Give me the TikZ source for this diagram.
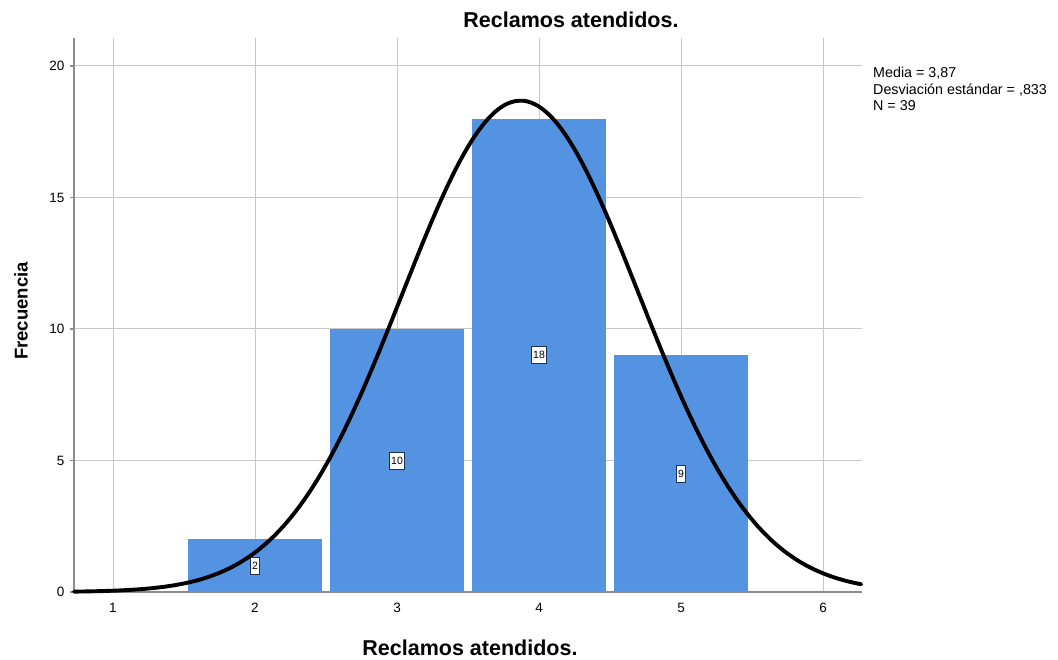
\documentclass[tikz,border=0pt]{standalone}
\usepackage{fontspec}
\setmainfont{Liberation Sans}
\definecolor{barblue}{RGB}{84,146,226}
\definecolor{gridgray}{RGB}{200,200,200}
\definecolor{axisgray}{RGB}{140,140,140}
\definecolor{boxedge}{RGB}{30,50,80}
\begin{document}
\begin{tikzpicture}[x=1pt,y=-1pt,
  gridline/.style={gridgray, line width=1pt},
  axisline/.style={axisgray, line width=1.6pt},
  bar/.style={fill=barblue, draw=none},
  countbox/.style={draw=boxedge, fill=white, line width=1pt, inner sep=2pt, font=\fontsize{10.5}{11}\selectfont, minimum height=17pt},
  ticklab/.style={font=\fontsize{13.5}{15}\selectfont},
  titletext/.style={font=\fontsize{21.5}{24}\selectfont\bfseries}]
\useasboundingbox (0,0) rectangle (1058,660);
% grid
\foreach \v in {1,...,6} \draw[gridline] ({113+(\v-1)*142},38) -- ({113+(\v-1)*142},592);
\foreach \f in {5,10,15,20} \draw[gridline] (74,{592-26.3*\f}) -- (862,{592-26.3*\f});
% bars
\foreach \v/\f in {2/2,3/10,4/18,5/9}
  \fill[bar] ({113+(\v-1)*142-67},592) rectangle ({113+(\v-1)*142+67},{592-26.3*\f});
% axes
\draw[axisline] (74,38) -- (74,592) -- (862,592);
\foreach \f in {0,5,10,15,20} \draw[axisline] (70,{592-26.3*\f}) -- (74,{592-26.3*\f});
% tick labels
\foreach \f in {0,5,10,15,20} \node[ticklab, anchor=east] (y\f) at (68,{592-26.3*\f}) {\f};
\foreach \v in {1,...,6} \node[ticklab] (x\v) at ({113+(\v-1)*142},608) {\v};
% normal curve
\draw[black, line width=3.9pt, line cap=round] plot[domain=0.725:6.27, samples=220, smooth]
  ({113+(\x-1)*142}, {592-26.3*18.678*exp(-((\x-3.87)^2)/1.387778)});
% count boxes
\node[countbox] (c2) at (255,{592-26.3*1}) {2};
\node[countbox] (c3) at (397,{592-26.3*5}) {10};
\node[countbox] (c4) at (539,{592-26.3*9}) {18};
\node[countbox] (c5) at (681,{592-26.3*4.5}) {9};
% titles
\node[titletext] (title) at (571,20) {Reclamos atendidos.};
\node[titletext] (xlab) at (470,648) {Reclamos atendidos.};
\node[titletext, font=\fontsize{18.5}{20}\selectfont\bfseries, rotate=90] (ylab) at (21,311) {Frecuencia};
% stats
\node[anchor=north west, align=left, inner sep=0pt, font=\fontsize{14.3}{16.5}\selectfont] (stats) at (873,67)
  {Media = 3,87\\Desviación estándar = ,833\\N = 39};
\end{tikzpicture}
\end{document}
